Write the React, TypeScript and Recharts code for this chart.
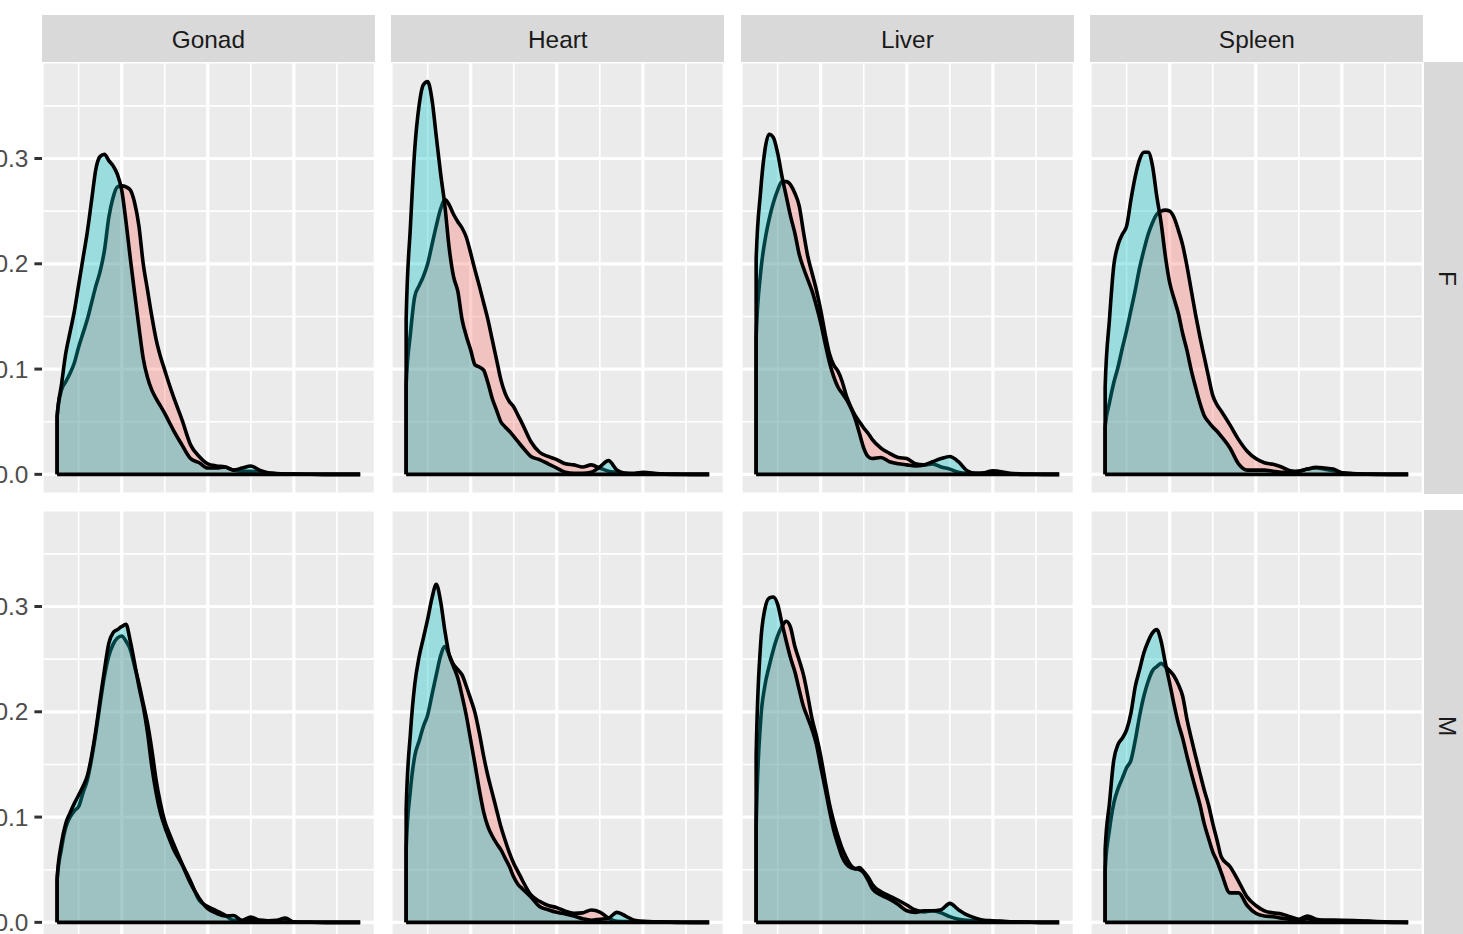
import React from 'react';
import { ComposedChart, Area, XAxis, YAxis, CartesianGrid, ReferenceLine } from 'recharts';

// ---------- data ----------
const TISSUES = ['Gonad', 'Heart', 'Liver', 'Spleen'];
const SEXES = ['F', 'M'];

const X = [
  2.5, 3, 3.5, 4, 4.5, 5, 5.5, 6, 6.5, 7, 7.5, 8, 8.5, 9, 9.5, 10, 10.5, 11, 11.5, 12, 12.5, 13, 13.5, 14, 14.5, 15, 15.5, 16,
  17, 18, 19, 20, 21, 22, 23, 24, 25, 26, 27, 28, 29, 30,
  32, 34, 36, 37.7,
];

const MAJOR_X = [10, 20, 30];
const MINOR_X = [5, 15, 25, 35];
const MAJOR_Y = [0, 0.1, 0.2, 0.3];
const MINOR_Y = [0.05, 0.15, 0.25, 0.35];

// red group (drawn first) and teal group (drawn on top)
const GONAD_F_RED = [0.055,0.08,0.088,0.096,0.106,0.121,0.134,0.147,0.163,0.179,0.193,0.213,0.244,0.263,0.273,0.274,0.273,0.27,0.258,0.236,0.2,0.175,0.15,0.128,0.112,0.099,0.086,0.074,
  0.052,0.028,0.017,0.01,0.008,0.007,0.004,0.003,0.003,0.002,0.001,0.0005,0.0003,0.0002,
  0.0001,0,0,0];
const GONAD_F_TEAL = [0.055,0.085,0.115,0.135,0.155,0.18,0.205,0.23,0.26,0.29,0.302,0.304,0.298,0.293,0.285,0.27,0.24,0.205,0.172,0.14,0.11,0.092,0.08,0.072,0.065,0.058,0.05,0.042,
  0.028,0.015,0.011,0.006,0.006,0.007,0.004,0.006,0.008,0.004,0.0015,0.0008,0.0004,0.0003,
  0.0001,0,0,0];
const HEART_F_RED = [0.085,0.134,0.169,0.179,0.188,0.2,0.218,0.236,0.252,0.261,0.256,0.247,0.24,0.234,0.225,0.21,0.194,0.179,0.163,0.147,0.128,0.109,0.09,0.077,0.069,0.064,0.056,0.048,
  0.031,0.021,0.017,0.014,0.01,0.009,0.007,0.009,0.006,0.003,0.002,0.001,0.001,0.002,
  0.0005,0.0002,0,0];
const HEART_F_TEAL = [0.147,0.236,0.309,0.35,0.37,0.373,0.356,0.321,0.286,0.255,0.215,0.188,0.174,0.147,0.131,0.118,0.104,0.102,0.099,0.087,0.072,0.061,0.05,0.045,0.041,0.036,0.031,0.026,
  0.017,0.014,0.01,0.006,0.002,0.001,0.001,0.002,0.007,0.013,0.004,0.001,0.0005,0.0005,
  0.0002,0,0,0];
const LIVER_F_RED = [0.13,0.19,0.221,0.242,0.258,0.27,0.278,0.278,0.275,0.267,0.255,0.23,0.207,0.191,0.175,0.156,0.134,0.115,0.104,0.098,0.088,0.074,0.064,0.056,0.05,0.044,0.039,0.033,
  0.025,0.02,0.016,0.015,0.01,0.009,0.01,0.007,0.005,0.002,0.001,0.001,0.0015,0.0035,
  0.001,0.0003,0,0];
const LIVER_F_TEAL = [0.204,0.267,0.307,0.323,0.32,0.305,0.283,0.264,0.245,0.229,0.209,0.196,0.185,0.174,0.16,0.144,0.125,0.107,0.093,0.083,0.077,0.071,0.063,0.053,0.039,0.025,0.017,0.015,
  0.016,0.012,0.01,0.009,0.008,0.009,0.012,0.015,0.017,0.012,0.0035,0.001,0.001,0.002,
  0.0005,0,0,0];
const SPLEEN_F_RED = [0.045,0.068,0.087,0.102,0.12,0.137,0.156,0.175,0.196,0.213,0.228,0.239,0.247,0.25,0.251,0.25,0.244,0.232,0.218,0.198,0.175,0.152,0.131,0.112,0.093,0.075,0.066,0.06,
  0.047,0.033,0.022,0.015,0.011,0.0095,0.007,0.0035,0.003,0.005,0.006,0.005,0.0035,0.0015,
  0.0005,0.0002,0,0];
const SPLEEN_F_TEAL = [0.083,0.147,0.198,0.218,0.228,0.236,0.261,0.283,0.299,0.306,0.306,0.293,0.264,0.239,0.207,0.182,0.167,0.153,0.134,0.118,0.099,0.083,0.068,0.056,0.05,0.045,0.041,0.036,
  0.025,0.01,0.004,0.004,0.004,0.003,0.002,0.002,0.003,0.005,0.0067,0.006,0.005,0.0015,
  0.0003,0,0,0];

const GONAD_M_RED = [0.04,0.07,0.09,0.1,0.106,0.11,0.123,0.135,0.155,0.18,0.208,0.234,0.253,0.264,0.27,0.272,0.267,0.259,0.243,0.227,0.208,0.189,0.164,0.135,0.113,0.096,0.085,0.075,
  0.056,0.039,0.021,0.015,0.011,0.007,0.002,0.002,0.005,0.002,0.0016,0.0016,0.0016,0.0005,
  0.0002,0,0,0];
const GONAD_M_TEAL = [0.042,0.075,0.094,0.104,0.113,0.121,0.129,0.139,0.158,0.183,0.212,0.24,0.265,0.275,0.278,0.281,0.283,0.267,0.246,0.224,0.205,0.18,0.148,0.123,0.104,0.091,0.08,0.07,
  0.055,0.037,0.023,0.013,0.0086,0.006,0.0065,0.0015,0.0016,0.002,0.0016,0.002,0.004,0.0003,
  0.0001,0,0,0];
const HEART_M_RED = [0.07,0.126,0.158,0.172,0.186,0.197,0.216,0.235,0.253,0.262,0.254,0.245,0.24,0.235,0.224,0.212,0.199,0.18,0.158,0.139,0.123,0.107,0.091,0.078,0.066,0.056,0.048,0.04,
  0.026,0.02,0.016,0.014,0.0105,0.0086,0.009,0.0117,0.0098,0.004,0.001,0.0008,0.0008,0.0008,
  0.0005,0.0002,0,0];
const HEART_M_TEAL = [0.107,0.18,0.226,0.252,0.27,0.288,0.308,0.321,0.305,0.277,0.254,0.243,0.232,0.215,0.196,0.173,0.15,0.126,0.105,0.091,0.082,0.075,0.069,0.061,0.053,0.043,0.036,0.032,
  0.024,0.015,0.012,0.0095,0.008,0.006,0.0035,0.002,0.003,0.004,0.0095,0.006,0.002,0.001,
  0.0003,0,0,0];
const LIVER_M_RED = [0.09,0.189,0.224,0.243,0.259,0.272,0.281,0.286,0.28,0.262,0.249,0.235,0.215,0.193,0.177,0.158,0.135,0.113,0.096,0.082,0.07,0.061,0.054,0.051,0.052,0.048,0.043,0.036,
  0.029,0.025,0.021,0.0165,0.0117,0.01,0.011,0.009,0.0054,0.003,0.002,0.0016,0.0013,0.001,
  0.0005,0.0002,0,0];
const LIVER_M_TEAL = [0.158,0.262,0.297,0.308,0.309,0.302,0.284,0.267,0.251,0.238,0.221,0.205,0.194,0.183,0.169,0.148,0.128,0.107,0.088,0.074,0.062,0.055,0.052,0.051,0.05,0.047,0.04,0.032,
  0.026,0.022,0.017,0.011,0.0095,0.011,0.011,0.012,0.018,0.012,0.007,0.004,0.002,0.0016,
  0.0006,0.0003,0,0];
const SPLEEN_M_RED = [0.05,0.088,0.113,0.127,0.137,0.147,0.154,0.173,0.196,0.215,0.229,0.239,0.243,0.246,0.243,0.239,0.234,0.226,0.215,0.193,0.175,0.158,0.142,0.126,0.112,0.094,0.078,0.062,
  0.053,0.039,0.024,0.016,0.011,0.009,0.008,0.0054,0.003,0.006,0.003,0.002,0.002,0.002,
  0.0016,0.0008,0.0003,0];
const SPLEEN_M_TEAL = [0.069,0.113,0.154,0.169,0.175,0.183,0.199,0.224,0.24,0.256,0.267,0.275,0.278,0.267,0.246,0.227,0.207,0.189,0.175,0.158,0.142,0.127,0.112,0.094,0.08,0.067,0.058,0.047,
  0.028,0.028,0.016,0.0086,0.006,0.0054,0.004,0.003,0.002,0.0035,0.002,0.002,0.002,0.0016,
  0.0013,0.0005,0,0];

const PANELS: Record<string, [number[], number[]]> = {
  'Gonad-F': [GONAD_F_RED, GONAD_F_TEAL],
  'Heart-F': [HEART_F_RED, HEART_F_TEAL],
  'Liver-F': [LIVER_F_RED, LIVER_F_TEAL],
  'Spleen-F': [SPLEEN_F_RED, SPLEEN_F_TEAL],
  'Gonad-M': [GONAD_M_RED, GONAD_M_TEAL],
  'Heart-M': [HEART_M_RED, HEART_M_TEAL],
  'Liver-M': [LIVER_M_RED, LIVER_M_TEAL],
  'Spleen-M': [SPLEEN_M_RED, SPLEEN_M_TEAL],
};

// ---------- layout / style ----------
const FONT = '"Liberation Sans", Arial, Helvetica, sans-serif';
const PANEL_W = 333.3;
const PANEL_H = 432;
const COL_X = [41.7, 391.2, 740.7, 1090.2];
const ROW_Y = [62.2, 510.4];
const STRIP_TOP = 15;
const STRIP_W = 47.2;
const AXIS_W = 60;
const RED = '#F8766D';
const TEAL = '#00BFC4';
const ALPHA = 0.34;
const LINE_W = 3.6;

const xSpan = X[X.length - 1] - X[0];
const X_DOMAIN: [number, number] = [X[0] - 0.05 * xSpan, X[X.length - 1] + 0.05 * xSpan];
const yMax = Math.max(...Object.values(PANELS).flatMap(([a, b]) => [...a, ...b]));
const Y_DOMAIN: [number, number] = [-0.05 * yMax, yMax * 1.05];

function Panel({ red, teal, showY }: { red: number[]; teal: number[]; showY: boolean }) {
  const data = [{ x: X[0], red: 0, teal: 0 }, ...X.map((x, i) => ({ x, red: red[i], teal: teal[i] }))];
  const w = PANEL_W + (showY ? AXIS_W : 0);
  return (
    <ComposedChart width={w} height={PANEL_H} data={data} margin={{ top: 0, right: 0, bottom: 0, left: 0 }}>
      <XAxis xAxisId="min" dataKey="x" type="number" domain={X_DOMAIN} ticks={MINOR_X} allowDataOverflow hide />
      <XAxis xAxisId="maj" dataKey="x" type="number" domain={X_DOMAIN} ticks={MAJOR_X} allowDataOverflow hide />
      <YAxis yAxisId="min" type="number" domain={Y_DOMAIN} ticks={MINOR_Y} allowDataOverflow hide />
      <YAxis
        yAxisId="maj"
        type="number"
        domain={Y_DOMAIN}
        ticks={MAJOR_Y}
        allowDataOverflow
        hide={!showY}
        width={AXIS_W}
        interval={0}
        axisLine={false}
        tickLine={{ stroke: '#333333', strokeWidth: 3 }}
        tickSize={7.6}
        tickMargin={6}
        tick={{ fill: '#4D4D4D', fontSize: 24.4, fontFamily: FONT }}
        tickFormatter={(v: number) => v.toFixed(1)}
      />
      <CartesianGrid xAxisId="min" yAxisId="min" stroke="#FFFFFF" strokeWidth={1.6} fill="#EBEBEB" fillOpacity={1} />
      <CartesianGrid xAxisId="maj" yAxisId="maj" stroke="#FFFFFF" strokeWidth={3.2} />
      <Area
        xAxisId="maj"
        yAxisId="maj"
        dataKey="red"
        type="monotone"
        baseValue={0}
        fill={RED}
        fillOpacity={ALPHA}
        stroke="#000000"
        strokeWidth={LINE_W}
        strokeLinejoin="round"
        dot={false}
        activeDot={false}
        isAnimationActive={false}
      />
      <Area
        xAxisId="maj"
        yAxisId="maj"
        dataKey="teal"
        type="monotone"
        baseValue={0}
        fill={TEAL}
        fillOpacity={ALPHA}
        stroke="#000000"
        strokeWidth={LINE_W}
        strokeLinejoin="round"
        dot={false}
        activeDot={false}
        isAnimationActive={false}
      />
      <ReferenceLine
        xAxisId="maj"
        yAxisId="maj"
        segment={[{ x: X[0], y: 0 }, { x: X[X.length - 1], y: 0 }]}
        stroke="#000000"
        strokeWidth={LINE_W}
      />
    </ComposedChart>
  );
}

export default function App() {
  return (
    <div
      style={{
        position: 'absolute',
        left: 0,
        top: 0,
        width: 1463,
        height: 934,
        overflow: 'hidden',
        background: '#FFFFFF',
        fontFamily: FONT,
      }}
    >
      {TISSUES.map((t, c) => (
        <div
          key={'strip-' + t}
          style={{
            position: 'absolute',
            left: COL_X[c],
            top: STRIP_TOP,
            width: PANEL_W,
            height: ROW_Y[0] - STRIP_TOP,
            background: '#D9D9D9',
            color: '#1A1A1A',
            fontSize: 24.4,
            display: 'flex',
            alignItems: 'center',
            justifyContent: 'center',
            paddingTop: 3,
            boxSizing: 'border-box',
          }}
        >
          {t}
        </div>
      ))}
      {SEXES.map((s, r) => (
        <div
          key={'rstrip-' + s}
          style={{
            position: 'absolute',
            left: COL_X[3] + PANEL_W,
            top: ROW_Y[r],
            width: STRIP_W,
            height: PANEL_H,
            background: '#D9D9D9',
            color: '#1A1A1A',
            fontSize: 24.4,
            display: 'flex',
            alignItems: 'center',
            justifyContent: 'center',
          }}
        >
          <span style={{ writingMode: 'vertical-rl' }}>{s}</span>
        </div>
      ))}
      {SEXES.map((s, r) =>
        TISSUES.map((t, c) => {
          const [red, teal] = PANELS[t + '-' + s];
          const showY = c === 0;
          return (
            <div
              key={t + s}
              style={{
                position: 'absolute',
                left: showY ? COL_X[c] - AXIS_W : COL_X[c],
                top: ROW_Y[r],
              }}
            >
              <Panel red={red} teal={teal} showY={showY} />
            </div>
          );
        })
      )}
    </div>
  );
}
